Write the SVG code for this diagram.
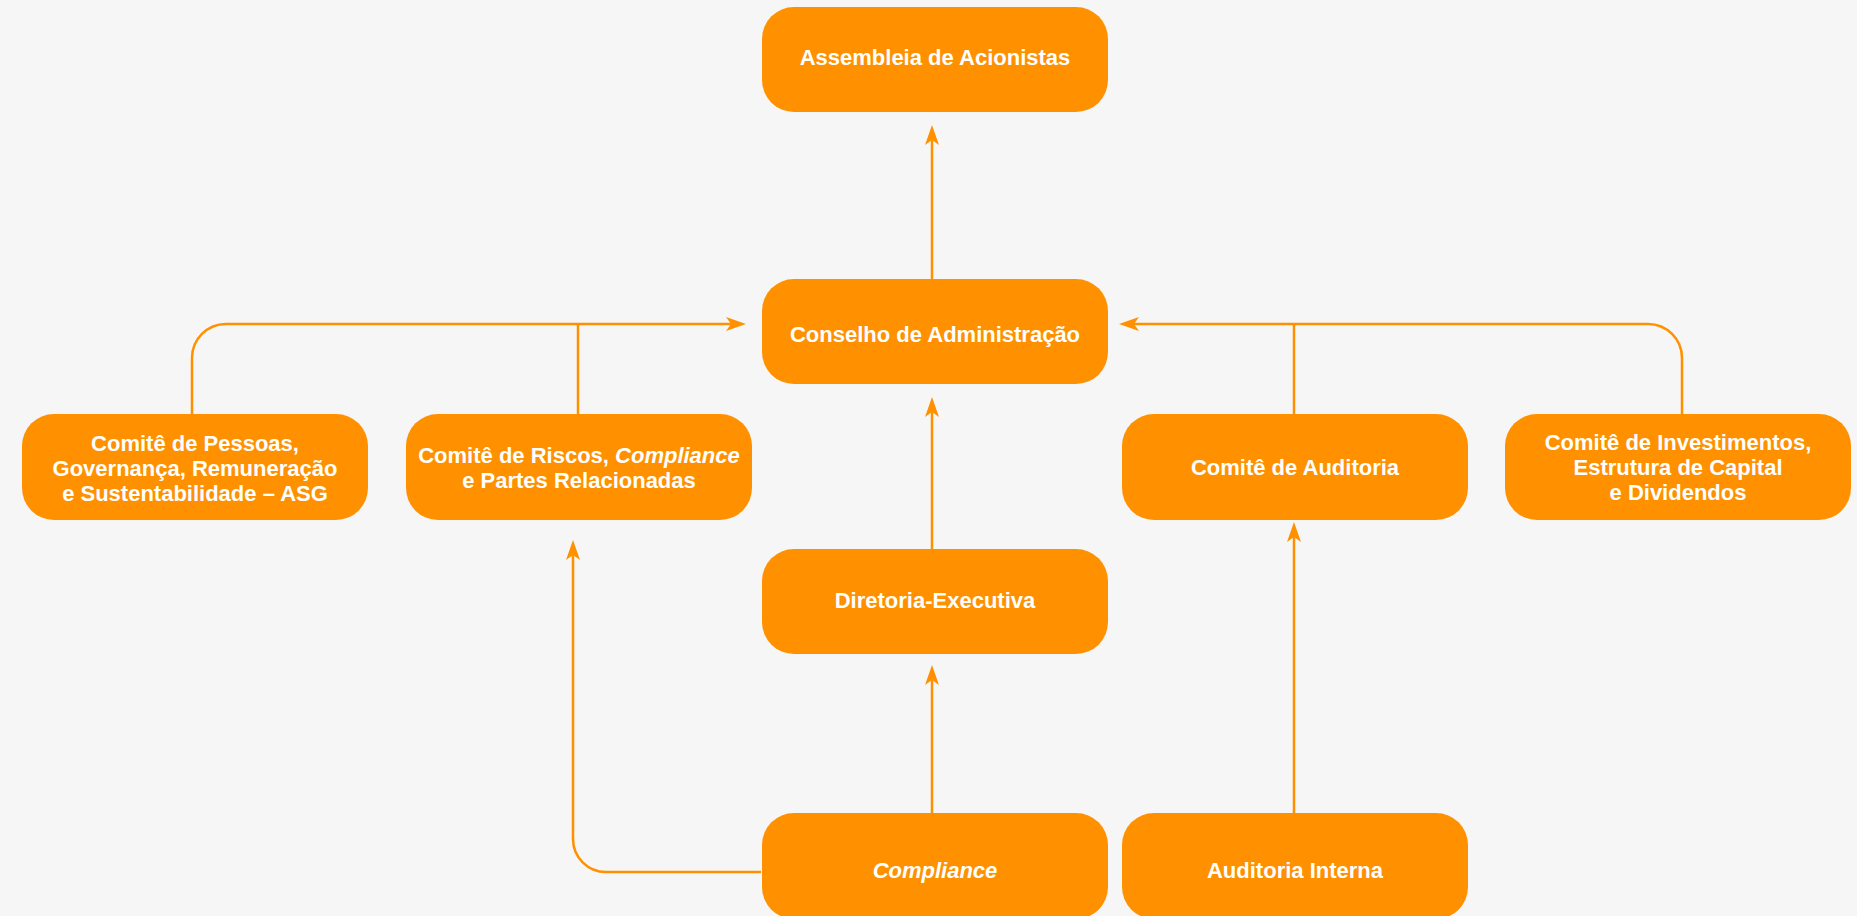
<svg xmlns="http://www.w3.org/2000/svg" width="1857" height="916" viewBox="0 0 1857 916">
  <style>
    .box { fill: #FF9100; }
    .label { fill: #FFFFFF; font-family: "Liberation Sans", Arial, sans-serif; font-weight: 700; font-size: 22px; text-anchor: middle; }
    .it { font-style: italic; }
    .link { fill: none; stroke: #FF9100; stroke-width: 2.5; }
    .arrow { marker-end: url(#head); }
  </style>
  <defs>
    <marker id="head" markerUnits="userSpaceOnUse" viewBox="0 0 20 14" markerWidth="20" markerHeight="14" refX="5" refY="7" orient="auto">
      <path d="M0,0 L20,7 L0,14 L5,7 Z" fill="#FF9100"/>
    </marker>
  </defs>

  <rect width="1857" height="916" fill="#F6F6F6"/>

  <!-- connectors -->
  <g id="connectors">
    <path class="link arrow" d="M932,279 V140"/>
    <path class="link arrow" d="M932,549 V412"/>
    <path class="link arrow" d="M932,813 V680"/>
    <path class="link arrow" d="M192,414 V358 A34,34 0 0 1 226,324 H731"/>
    <path class="link" d="M578,414 V324"/>
    <path class="link arrow" d="M1682,414 V358 A34,34 0 0 0 1648,324 H1134"/>
    <path class="link" d="M1294,414 V324"/>
    <path class="link arrow" d="M761,872 H606 A33,33 0 0 1 573,839 V555"/>
    <path class="link arrow" d="M1294,813 V537"/>
  </g>

  <!-- nodes -->
  <g id="assembleia">
    <rect class="box" x="762" y="7" width="346" height="105" rx="32"/>
    <text class="label" x="935" y="65">Assembleia de Acionistas</text>
  </g>
  <g id="conselho">
    <rect class="box" x="762" y="279" width="346" height="105" rx="32"/>
    <text class="label" x="935" y="342">Conselho de Administração</text>
  </g>
  <g id="comite-pessoas">
    <rect class="box" x="22" y="414" width="346" height="106" rx="32"/>
    <text class="label" x="195" y="451">Comitê de Pessoas,<tspan x="195" dy="25">Governança, Remuneração</tspan><tspan x="195" dy="25">e Sustentabilidade – ASG</tspan></text>
  </g>
  <g id="comite-riscos">
    <rect class="box" x="406" y="414" width="346" height="106" rx="32"/>
    <text class="label" x="579" y="463">Comitê de Riscos, <tspan class="it">Compliance</tspan><tspan x="579" dy="25">e Partes Relacionadas</tspan></text>
  </g>
  <g id="comite-auditoria">
    <rect class="box" x="1122" y="414" width="346" height="106" rx="32"/>
    <text class="label" x="1295" y="475">Comitê de Auditoria</text>
  </g>
  <g id="comite-investimentos">
    <rect class="box" x="1505" y="414" width="346" height="106" rx="32"/>
    <text class="label" x="1678" y="450">Comitê de Investimentos,<tspan x="1678" dy="25">Estrutura de Capital</tspan><tspan x="1678" dy="25">e Dividendos</tspan></text>
  </g>
  <g id="diretoria">
    <rect class="box" x="762" y="549" width="346" height="105" rx="32"/>
    <text class="label" x="935" y="608">Diretoria-Executiva</text>
  </g>
  <g id="compliance">
    <rect class="box" x="762" y="813" width="346" height="106" rx="32"/>
    <text class="label it" x="935" y="878">Compliance</text>
  </g>
  <g id="auditoria-interna">
    <rect class="box" x="1122" y="813" width="346" height="106" rx="32"/>
    <text class="label" x="1295" y="878">Auditoria Interna</text>
  </g>
</svg>
